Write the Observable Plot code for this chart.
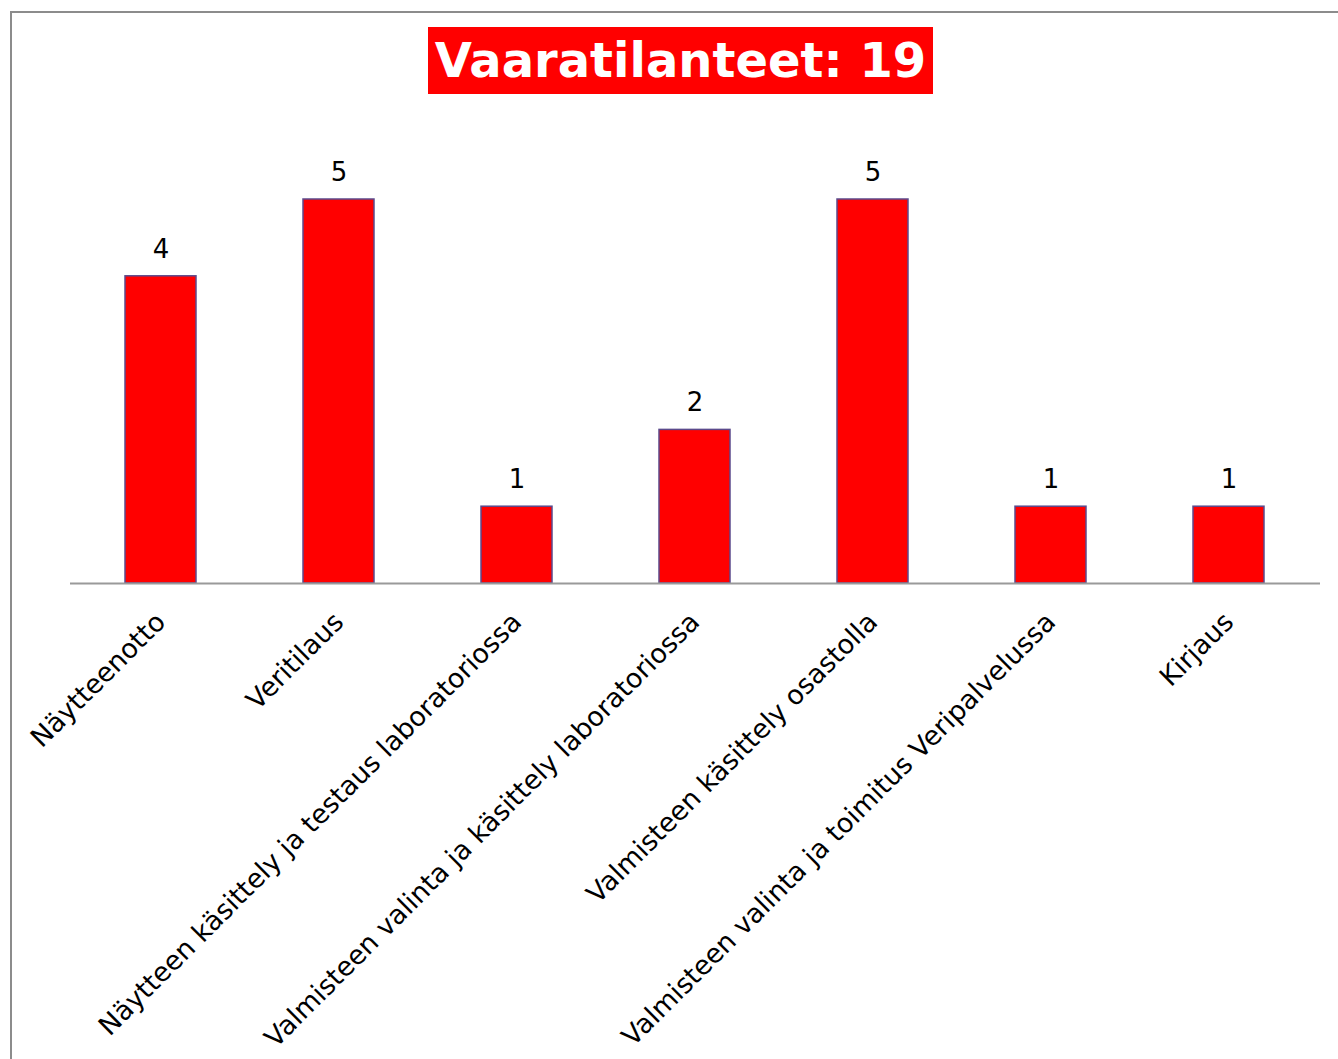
<!DOCTYPE html>
<html>
<head>
<meta charset="utf-8">
<script src="https://cdn.jsdelivr.net/npm/d3@7"></script>
<script src="https://cdn.jsdelivr.net/npm/@observablehq/plot@0.6"></script>
<style>
  html, body { margin: 0; padding: 0; background: #fff; }
  #wrap { position: relative; width: 1338px; height: 1059px; overflow: hidden; font-family: "DejaVu Sans", Verdana, sans-serif; }
  #frame { position: absolute; left: 10px; top: 11px; right: -10px; bottom: -10px; border-top: 2px solid #8c8c8c; border-left: 2px solid #8c8c8c; pointer-events: none; }
  #title { position: absolute; left: 428px; top: 27px; width: 505px; height: 67px; background: #ff0000; color: #fff; font-weight: bold; font-size: 48px; line-height: 67px; text-align: center; white-space: nowrap; }
  #chart { position: absolute; left: 0; top: 0; }
</style>
</head>
<body>
<div id="wrap">
  <div id="chart"></div>
  <div id="frame"></div>
  <div id="title">Vaaratilanteet: 19</div>
</div>
<script>
const categories = [
  "Näytteenotto",
  "Veritilaus",
  "Näytteen käsittely ja testaus laboratoriossa",
  "Valmisteen valinta ja käsittely laboratoriossa",
  "Valmisteen käsittely osastolla",
  "Valmisteen valinta ja toimitus Veripalvelussa",
  "Kirjaus"
];
const values = [4, 5, 1, 2, 5, 1, 1];

const data = categories.map((c, i) => ({category: c, value: values[i]}));

const chart = Plot.plot({
  width: 1338,
  height: 1059,
  marginLeft: 70,
  marginRight: 18,
  marginTop: 199,
  marginBottom: 476,
  style: {fontFamily: "'DejaVu Sans', Verdana, sans-serif", fontSize: "26.8px", color: "#000", background: "transparent"},
  x: {domain: categories, paddingInner: 0.6, paddingOuter: 0.3, label: null, tickSize: 0, tickRotate: -45, tickPadding: 34},
  y: {domain: [0, 5], axis: null},
  marks: [
    Plot.barY(data, {x: "category", y: "value", fill: "#ff0000", stroke: "#5b4a8c", strokeWidth: 1.5}),
    Plot.ruleY([0], {stroke: "#9a9a9a", strokeWidth: 2}),
    Plot.text(data, {x: "category", y: "value", text: d => String(d.value), dy: -27, fontSize: 26, fill: "#000"})
  ]
});
document.getElementById("chart").appendChild(chart);
</script>
</body>
</html>
